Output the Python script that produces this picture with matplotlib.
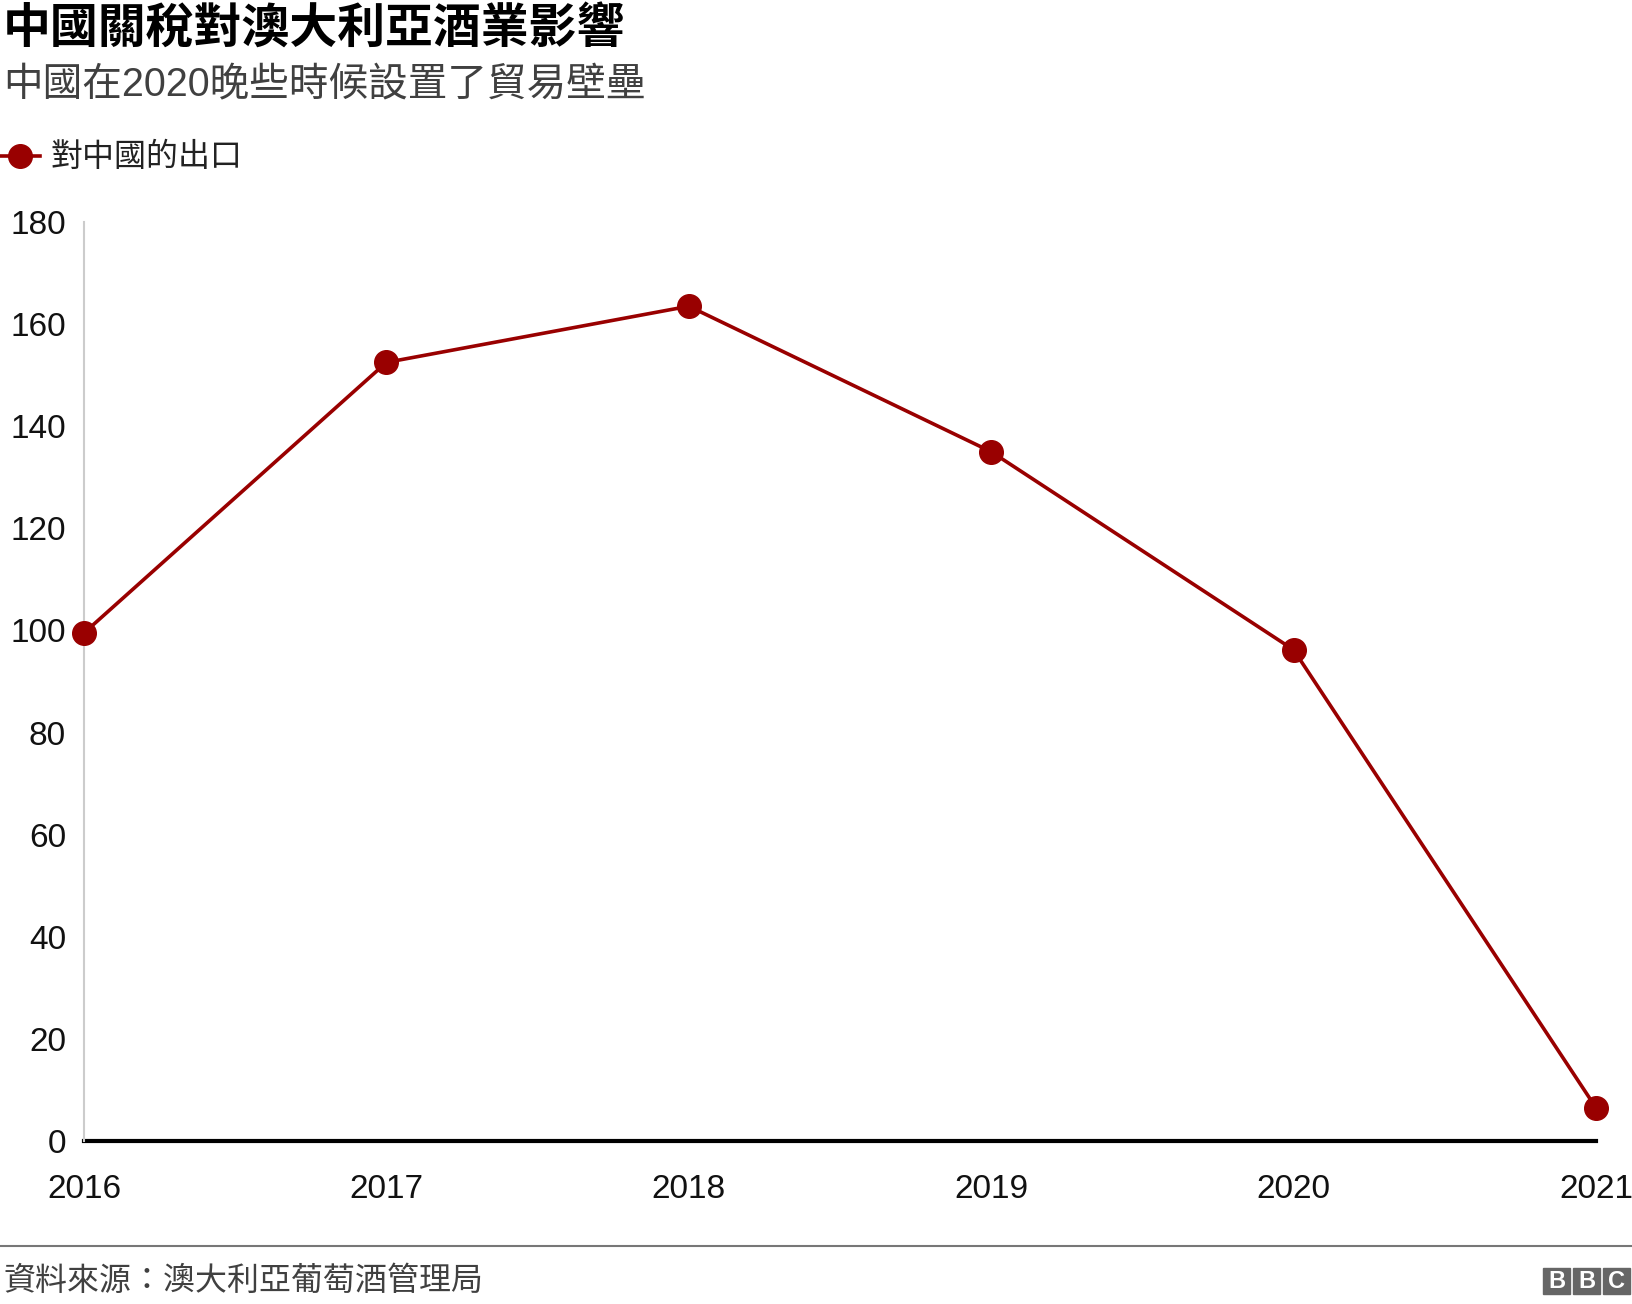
import matplotlib
matplotlib.use("Agg")
import matplotlib.pyplot as plt
from matplotlib.patches import Rectangle
from matplotlib.lines import Line2D

plt.rcParams['font.family'] = ['Liberation Sans', 'Noto Sans CJK TC', 'DejaVu Sans']

# data (exports to China)
years = [2016, 2017, 2018, 2019, 2020, 2021]
exports = [99.5, 152.5, 163.5, 135, 96.2, 6.5]
y_ticks = [0, 20, 40, 60, 80, 100, 120, 140, 160, 180]

title = '中國關稅對澳大利亞酒業影響'
subtitle = '中國在2020晚些時候設置了貿易壁壘'
series_name = '對中國的出口'
source = '資料來源：澳大利亞葡萄酒管理局'

red = '#990000'
W, H = 1632, 1304

fig = plt.figure(figsize=(W / 100, H / 100), dpi=100)
ax = fig.add_axes([84 / W, 1 - 1141 / H, (1596 - 84) / W, (1141 - 222) / H])

ax.plot(years, exports, color=red, lw=2.6, marker='o', markersize=17,
        clip_on=False, zorder=3)
ax.set_xlim(2016, 2021)
ax.set_ylim(0, 180)
ax.set_xticks(years)
ax.set_yticks(y_ticks)
ax.tick_params(axis='both', length=0, labelsize=24, colors='#111111')
ax.tick_params(axis='y', pad=13)
ax.tick_params(axis='x', pad=24)

for s in ['top', 'right']:
    ax.spines[s].set_visible(False)
ax.spines['left'].set_color('#cccccc')
ax.spines['left'].set_linewidth(1.5)
ax.spines['bottom'].set_color('black')
ax.spines['bottom'].set_linewidth(3)
ax.spines['bottom'].set_zorder(2)

# headings
fig.text(3 / W, 1 - 5 / H, title, fontsize=34.5, fontweight='bold',
         family=['Noto Sans CJK TC'], va='top', ha='left', color='black')
fig.text(3 / W, 1 - 66 / H, subtitle, fontsize=28.5, va='top', ha='left',
         color='#404040', family=['Liberation Sans', 'Noto Sans CJK TC'])

# legend
fig.add_artist(Line2D([0, 40 / W], [1 - 156 / H] * 2, color=red, lw=2.6,
                      transform=fig.transFigure))
fig.add_artist(Line2D([20 / W], [1 - 156 / H], color=red, marker='o',
                      markersize=17, transform=fig.transFigure))
fig.text(50 / W, 1 - 157 / H, series_name, fontsize=23, va='center',
         ha='left', color='#222222', family=['Noto Sans CJK TC'])

# footer
fig.add_artist(Line2D([0, 1], [1 - 1246 / H] * 2, color='#777777', lw=1.5,
                      transform=fig.transFigure))
fig.text(3 / W, 1 - 1281 / H, source, fontsize=23, va='center', ha='left',
         color='#404040', family=['Noto Sans CJK TC'])

# BBC blocks
for i, letter in enumerate('BBC'):
    x0 = 1543 + i * 30
    fig.add_artist(Rectangle((x0 / W, 1 - 1294 / H), 27 / W, 26 / H,
                             color='#666666', transform=fig.transFigure))
    fig.text((x0 + 13.5) / W, 1 - 1281 / H, letter, fontsize=17,
             fontweight='bold', color='white', ha='center', va='center',
             family=['Liberation Sans'])

fig.savefig('out.png', dpi=100)
